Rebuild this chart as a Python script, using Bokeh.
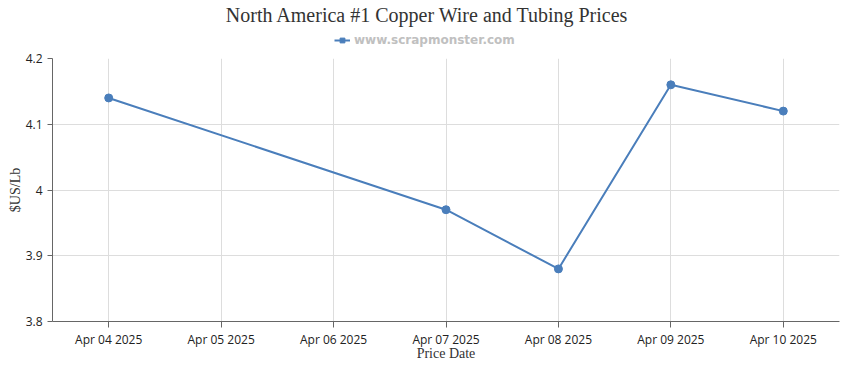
from datetime import datetime
from bokeh.plotting import figure
from bokeh.layouts import column
from bokeh.models import (FixedTicker, DatetimeTickFormatter, Range1d, Legend, LegendItem,
                          ColumnDataSource, CustomJSTickFormatter, Label)
from bokeh.embed import file_html
from bokeh.resources import INLINE

dates = ["2025-04-04", "2025-04-07", "2025-04-08", "2025-04-09", "2025-04-10"]
prices = [4.14, 3.97, 3.88, 4.16, 4.12]
tick_dates = ["2025-04-04", "2025-04-05", "2025-04-06", "2025-04-07",
              "2025-04-08", "2025-04-09", "2025-04-10"]
y_ticks = [3.8, 3.9, 4.0, 4.1, 4.2]
title_text = "North America #1 Copper Wire and Tubing Prices"
series_name = "www.scrapmonster.com"

xs = [datetime.strptime(d, "%Y-%m-%d") for d in dates]
tx = [datetime.strptime(d, "%Y-%m-%d") for d in tick_dates]
def ms(d):
    return (d - datetime(1970, 1, 1)).total_seconds() * 1000.0

half_day = 12 * 3600 * 1000.0
color = "#4a7ebb"
W = 845

# ---- header: title + legend ----
head = figure(width=W, height=50, output_backend="svg", toolbar_location=None,
              min_border=0, x_range=Range1d(0, 1), y_range=Range1d(0, 1), title=None)
head.axis.visible = False
head.grid.visible = False
head.outline_line_color = None
head.add_layout(Label(x=375, y=36, x_units="screen", y_units="screen", text=title_text,
                      text_align="center", text_baseline="middle",
                      text_font="Liberation Serif", text_font_size="20px",
                      text_color="#333333"))
dsrc = ColumnDataSource(dict(x=[5.0], y=[5.0]))
lr = head.line("x", "y", source=dsrc, line_color=color, line_width=2)
sr = head.scatter("x", "y", source=dsrc, marker="square", size=6,
                  fill_color=color, line_color=color)
legend = Legend(items=[LegendItem(label=series_name, renderers=[lr, sr])],
                orientation="horizontal", location=(282, 3),
                label_text_font="DejaVu Sans", label_text_font_style="bold",
                label_text_font_size="12px", label_text_color="#c0c0c0",
                border_line_color=None, background_fill_alpha=0,
                glyph_width=16, glyph_height=12, label_standoff=4, label_height=12,
                padding=0, margin=0, spacing=0)
head.add_layout(legend)

# ---- main chart ----
src = ColumnDataSource(dict(x=xs, y=prices))
p = figure(width=W, height=313, x_axis_type="datetime", output_backend="svg",
           toolbar_location=None, min_border_left=52, min_border_right=6,
           min_border_bottom=40, min_border_top=8, title=None)
p.x_range = Range1d(ms(tx[0]) - half_day, ms(tx[-1]) + half_day)
p.y_range = Range1d(3.8, 4.2)

p.line("x", "y", source=src, line_color=color, line_width=2)
p.scatter("x", "y", source=src, size=8, marker="circle", fill_color=color, line_color=color)

p.xaxis.ticker = FixedTicker(ticks=[ms(t) for t in tx])
p.xaxis.formatter = DatetimeTickFormatter(days="%b %d %Y", months="%b %d %Y",
                                          hours="%b %d %Y")
p.yaxis.ticker = FixedTicker(ticks=y_ticks)
p.yaxis.formatter = CustomJSTickFormatter(code="return String(Number(tick.toFixed(2)));")

for ax in (p.xaxis, p.yaxis):
    ax.axis_line_color = "#666666"
    ax.major_tick_line_color = "#666666"
    ax.minor_tick_line_color = None
    ax.major_label_text_font = "Open Sans"
    ax.major_label_text_font_size = "12px"
    ax.major_label_text_color = "#222222"
    ax.axis_label_text_font = "Liberation Serif"
    ax.axis_label_text_font_size = "14px"
    ax.axis_label_text_font_style = "normal"
    ax.axis_label_text_color = "#333333"
p.xaxis.axis_label_standoff = -5
p.yaxis.axis_label_standoff = 0
p.xaxis.major_tick_out = 6
p.xaxis.major_tick_in = 0
p.yaxis.major_tick_out = 5
p.yaxis.major_tick_in = 0
p.xaxis.axis_label = "Price Date"
p.yaxis.axis_label = "$US/Lb"
p.xaxis.major_label_standoff = 3
p.yaxis.major_label_standoff = 5

p.xgrid.grid_line_color = "#dddddd"
p.ygrid.grid_line_color = "#dddddd"
p.outline_line_color = None

layout = column(head, p, spacing=0)
open("out.html", "w").write(file_html(layout, INLINE))
